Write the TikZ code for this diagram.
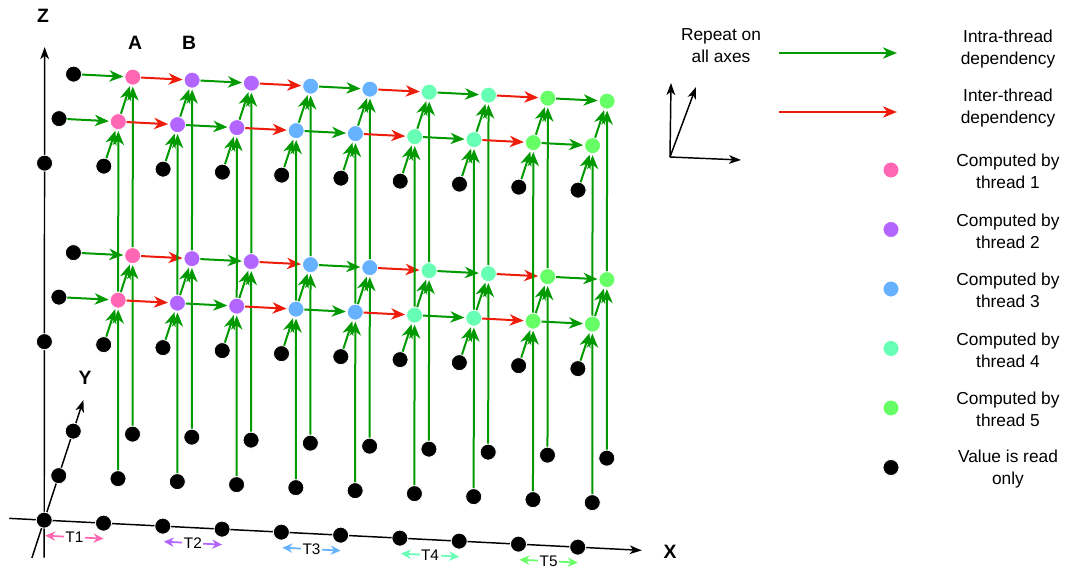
\documentclass[tikz,border=0pt]{standalone}
\usepackage{fontspec}
\setmainfont{Liberation Sans}
\usetikzlibrary{arrows.meta,calc}
\definecolor{thr0}{HTML}{000000}
\definecolor{thr1}{HTML}{FF66B3}
\definecolor{thr2}{HTML}{B266FF}
\definecolor{thr3}{HTML}{66B2FF}
\definecolor{thr4}{HTML}{66FFB3}
\definecolor{thr5}{HTML}{66FF66}
\definecolor{intra}{HTML}{009900}
\definecolor{inter}{HTML}{EE1C0A}
\begin{document}
\begin{tikzpicture}[x=0.75pt,y=-0.75pt,
  dot/.style={circle,inner sep=0pt,minimum size=12pt,draw=white,line width=0.6pt},
  dep/.style={line width=1.5pt,-{Stealth[length=10.5pt,width=8.5pt,inset=3.2pt]},shorten >=0.8pt},
  intradep/.style={dep,draw=intra},
  interdep/.style={dep,draw=inter},
  axis/.style={line width=1.1pt,-{Stealth[length=9pt,width=6.5pt,inset=2.5pt]}},
  tarrow/.style={line width=1.3pt,{Stealth[length=7.5pt,width=7pt,inset=2.5pt]}-{Stealth[length=7.5pt,width=7pt,inset=2.5pt]}},
  tlabel/.style={fill=white,inner xsep=1.2pt,inner ysep=0pt,text=black,font=\fontsize{11.5pt}{13pt}\selectfont},
  axlabel/.style={font=\bfseries\fontsize{14.5pt}{17pt}\selectfont,inner sep=0pt},
  legtext/.style={align=center,inner sep=0pt,font=\fontsize{13pt}{16.5pt}\selectfont}
]
\useasboundingbox (0,0) rectangle (1065,568);

\begin{scope}[shift={(33.17pt,-390.1pt)},x={(44.46pt,-2.25pt)},y={(10.88pt,33.375pt)},z={(0.12pt,133.875pt)}]
  % axes
  \coordinate (xs) at (-0.59,0,0);
  \coordinate (xe) at (10.08,0,0);
  \coordinate (ys) at (0,-0.85,0);
  \coordinate (ye) at (0,2.7,0);
  \coordinate (zs) at (0,0,-0.21);
  \coordinate (ze) at (0,0,2.65);
  \draw[axis] (xs) -- (xe);
  \draw[axis] (ys) -- (ye);
  \draw[axis] (zs) -- (ze);
  % grid points
  \foreach \i in {0,...,9}{\foreach \j in {0,1,2}{\foreach \k in {0,1,2}{
    \pgfmathtruncatemacro\t{(\i>0)*(\j>0)*(\k>0)*(floor(\i/2)+1)}
    \node[dot,fill=thr\t] (n\i\j\k) at (\i,\j,\k) {};
  }}}
  % dependencies
  \foreach \i in {1,...,9}{
    \pgfmathtruncatemacro\p{\i-1}
    \pgfmathtruncatemacro\r{1-mod(\i,2)}
    \foreach \j in {1,2}{\foreach \k in {1,2}{
      \ifnum\r=1
        \draw[interdep] (n\p\j\k) -- (n\i\j\k);
      \else
        \draw[intradep] (n\p\j\k) -- (n\i\j\k);
      \fi
    }}
    \foreach \k in {1,2}{
      \draw[intradep] (n\i0\k) -- (n\i1\k);
      \draw[intradep] (n\i1\k) -- (n\i2\k);
    }
    \foreach \j in {1,2}{
      \draw[intradep] (n\i\j0) -- (n\i\j1);
      \draw[intradep] (n\i\j1) -- (n\i\j2);
    }
  }
\end{scope}

% axis labels
\node[axlabel] (lx) at (670,552) {X};
\node[axlabel] (ly) at (85,378) {Y};
\node[axlabel] (lz) at (43,16) {Z};
\node[axlabel] (la) at (135,43) {A};
\node[axlabel] (lb) at (189,43) {B};

% thread ranges
\foreach \t/\a/\b in {1/0/1,2/2/3,3/4/5,4/6/7,5/8/9}{
  \coordinate (ta\t) at ($(n\a00)+(1,15.5)$);
  \coordinate (tb\t) at ($(n\b00)+(0,15.5)$);
  \draw[tarrow,draw=thr\t] (ta\t) -- (tb\t) node[tlabel,midway] {T\t};
}

% legend
\node[legtext] (rep) at (721,46) {Repeat on\\all axes};
\coordinate (mo) at (670,157);
\coordinate (mz) at (671,83);
\coordinate (my) at (696,87);
\coordinate (mx) at (741,160);
\draw[axis] (mo) -- (mz);
\draw[axis] (mo) -- (my);
\draw[axis] (mo) -- (mx);

\coordinate (g1) at (779,53);
\coordinate (g2) at (898,53);
\draw[intradep] (g1) -- (g2);
\coordinate (r1) at (779,112);
\coordinate (r2) at (898,112);
\draw[interdep] (r1) -- (r2);
\node[legtext] (lintra) at (1008,49) {Intra-thread\\dependency};
\node[legtext] (linter) at (1008,108) {Inter-thread\\dependency};

\foreach \t/\y in {1/170,2/229.5,3/289,4/348.5,5/408}{
  \node[dot,fill=thr\t] (ld\t) at (891,\y) {};
  \node[legtext] (lt\t) at (1008,\y+1.5) {Computed by\\thread \t};
}
\node[dot,fill=thr0] (ld0) at (891,467.5) {};
\node[legtext] (lt0) at (1008,469) {Value is read\\only};
\end{tikzpicture}
\end{document}
